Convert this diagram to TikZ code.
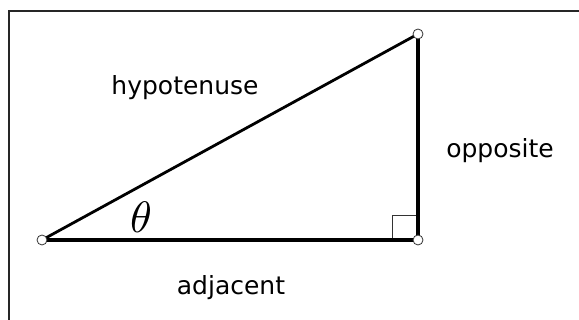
\documentclass[tikz,border=0pt]{standalone}
\usepackage{fontspec}
\setmainfont{DejaVu Sans}
\begin{document}
\begin{tikzpicture}[x=1pt,y=-1pt,
  vert/.style={circle,draw=black!80,fill=white,line width=0.8pt,minimum size=10pt,inner sep=0pt},
  lbl/.style={font=\fontsize{25}{25}\selectfont,anchor=base}]
\useasboundingbox (0,0) rectangle (579,320);
\fill[white] (0,0) rectangle (579,320);
\draw[line width=1.6pt,black!85] (9,320) -- (9,11) -- (579,11);
\coordinate (A) at (42,240);
\coordinate (B) at (418,240);
\coordinate (C) at (418,34);
\draw[line width=0.8pt,black!80] (392,240) -- (392,215) -- (418,215);
\draw[line width=2.8pt] (A) -- (C);
\draw[line width=3.2pt] (A) -- (B);
\draw[line width=3.6pt] (B) -- (C);
\node[vert] (a) at (A) {};
\node[vert] (b) at (B) {};
\node[vert] (c) at (C) {};
\node[lbl] (hyp) at (185,95) {hypotenuse};
\node[lbl] (opp) at (500,158) {opposite};
\node[lbl] (adj) at (231,295) {adjacent};
\node[anchor=base,inner sep=0pt] (th) at (141,233) {\scalebox{4.4}{$\theta$}};
\end{tikzpicture}
\end{document}
